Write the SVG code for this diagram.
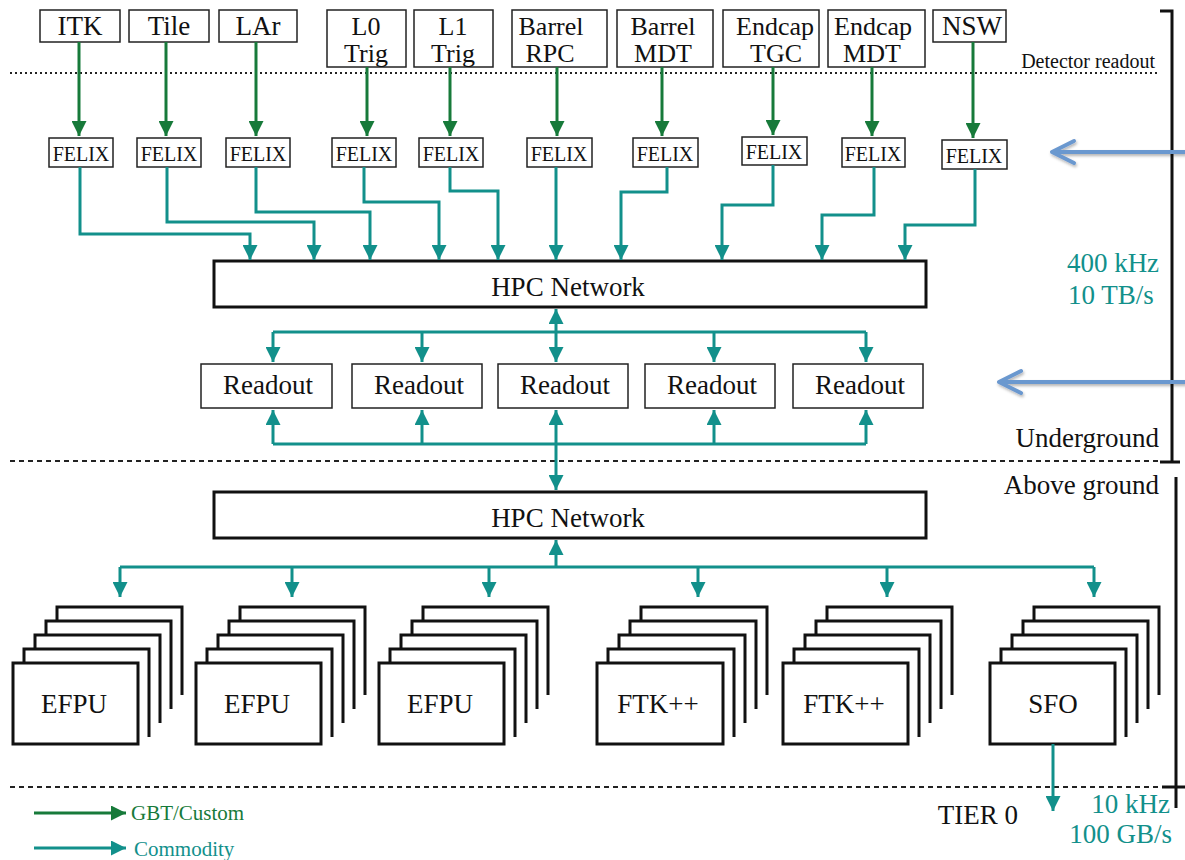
<svg xmlns="http://www.w3.org/2000/svg" width="1185" height="860" viewBox="0 0 1185 860" font-family="'Liberation Serif', 'Times New Roman', Times, serif">
  <defs>
    <marker id="ahGreen" markerUnits="userSpaceOnUse" markerWidth="15" markerHeight="15" refX="15" refY="7.5" orient="auto">
      <path d="M0,0 L15,7.5 L0,15 z" fill="#177a3a"/>
    </marker>
    <marker id="ahTeal" markerUnits="userSpaceOnUse" markerWidth="15" markerHeight="15" refX="15" refY="7.5" orient="auto-start-reverse">
      <path d="M0,0 L15,7.5 L0,15 z" fill="#12908b"/>
    </marker>
    <filter id="softShadow" x="-10%" y="-50%" width="120%" height="200%">
      <feDropShadow dx="1" dy="2" stdDeviation="1.5" flood-color="#000" flood-opacity="0.3"/>
    </filter>
  </defs>
  <style>
    text { font-family: 'Liberation Serif', 'Times New Roman', Times, serif; }
    .lbl { font-size: 27px; fill: #111; text-anchor: middle; }
    .lbl2 { font-size: 26px; fill: #111; text-anchor: middle; }
    .felix { font-size: 20px; fill: #111; text-anchor: middle; }
    .note { font-size: 27px; fill: #111; text-anchor: end; }
    .rate { font-size: 27px; fill: #12908b; text-anchor: middle; }
    .box { fill: #fff; stroke: #222; stroke-width: 1.5; }
    .net { fill: #fff; stroke: #111; stroke-width: 3; }
    .stack { fill: none; stroke: #111; stroke-width: 3; }
    .front { fill: #fff; stroke: #111; stroke-width: 3; }
    .green { fill: none; stroke: #177a3a; stroke-width: 3; marker-end: url(#ahGreen); }
    .teal { fill: none; stroke: #12908b; stroke-width: 3; }
    .end { marker-end: url(#ahTeal); }
    .both { marker-start: url(#ahTeal); marker-end: url(#ahTeal); }
    .dots { stroke: #222; stroke-width: 2; stroke-dasharray: 2 3; }
    .dash { stroke: #222; stroke-width: 2; stroke-dasharray: 5 4; }
    .bracket { fill: none; stroke: #111; stroke-width: 3; }
    .blue { fill: none; stroke: #6b98cf; stroke-width: 4; stroke-linecap: round; stroke-linejoin: round; filter: url(#softShadow); }
  </style>

  <!-- level separators -->
  <g id="separators">
    <line class="dots" x1="10" y1="73" x2="1158" y2="73"/>
    <line class="dash" x1="10" y1="461" x2="1162" y2="461"/>
    <line class="dash" x1="10" y1="787" x2="1162" y2="787"/>
    <text x="1155" y="68" style="font-size:20px;fill:#111;text-anchor:end">Detector readout</text>
    <text class="note" x="1159" y="447">Underground</text>
    <text class="note" x="1159" y="494">Above ground</text>
    <text class="note" x="1018" y="824">TIER 0</text>
  </g>

  <!-- right-hand bracket and rate labels -->
  <g id="bracket">
    <path class="bracket" d="M1160,11 H1172 V462"/>
    <line class="bracket" x1="1160" y1="462" x2="1180" y2="462"/>
    <path class="bracket" d="M1176,477 V808"/>
    <line class="bracket" x1="1162" y1="787" x2="1185" y2="787"/>
    <text class="rate" x="1113" y="272">400 kHz</text>
    <text class="rate" x="1111" y="304">10 TB/s</text>
    <text class="rate" x="1170" y="813" style="text-anchor:end">10 kHz</text>
    <text class="rate" x="1172" y="843" style="text-anchor:end">100 GB/s</text>
    <path class="blue" d="M1185,152 H1052 M1074,141 L1052,152 L1074,163"/>
    <path class="blue" d="M1185,382 H999 M1021,371 L999,382 L1021,393"/>
  </g>

  <!-- detector front-ends -->
  <g id="det-itk"><rect class="box" x="40" y="10" width="80" height="32"/><text class="lbl" x="80" y="35">ITK</text></g>
  <g id="det-tile"><rect class="box" x="129" y="10" width="80" height="32"/><text class="lbl" x="169" y="35">Tile</text></g>
  <g id="det-lar"><rect class="box" x="219" y="10" width="78" height="32"/><text class="lbl" x="258" y="35">LAr</text></g>
  <g id="det-l0"><rect class="box" x="327" y="10" width="79" height="57"/><text class="lbl2" x="366" y="35">L0<tspan x="366" dy="27">Trig</tspan></text></g>
  <g id="det-l1"><rect class="box" x="414" y="10" width="79" height="57"/><text class="lbl2" x="453" y="35">L1<tspan x="453" dy="27">Trig</tspan></text></g>
  <g id="det-brpc"><rect class="box" x="512" y="10" width="95" height="57"/><text class="lbl2" x="551" y="35">Barrel<tspan x="550" dy="27">RPC</tspan></text></g>
  <g id="det-bmdt"><rect class="box" x="617" y="10" width="96" height="57"/><text class="lbl2" x="663" y="35">Barrel<tspan x="663" dy="27">MDT</tspan></text></g>
  <g id="det-etgc"><rect class="box" x="723" y="10" width="96" height="57"/><text class="lbl2" x="775" y="35">Endcap<tspan x="776" dy="27">TGC</tspan></text></g>
  <g id="det-emdt"><rect class="box" x="828" y="10" width="97" height="57"/><text class="lbl2" x="873" y="35">Endcap<tspan x="872" dy="27">MDT</tspan></text></g>
  <g id="det-nsw"><rect class="box" x="933" y="10" width="73" height="32"/><text class="lbl" x="972" y="35">NSW</text></g>

  <!-- FELIX cards -->
  <g id="felix-itk"><rect class="box" x="49" y="138" width="64" height="29"/><text class="felix" x="81" y="161">FELIX</text></g>
  <g id="felix-tile"><rect class="box" x="137" y="138" width="64" height="29"/><text class="felix" x="169" y="161">FELIX</text></g>
  <g id="felix-lar"><rect class="box" x="226" y="138" width="64" height="29"/><text class="felix" x="258" y="161">FELIX</text></g>
  <g id="felix-l0"><rect class="box" x="332" y="138" width="64" height="29"/><text class="felix" x="364" y="161">FELIX</text></g>
  <g id="felix-l1"><rect class="box" x="419" y="138" width="64" height="29"/><text class="felix" x="451" y="161">FELIX</text></g>
  <g id="felix-brpc"><rect class="box" x="527" y="138" width="65" height="29"/><text class="felix" x="559" y="161">FELIX</text></g>
  <g id="felix-bmdt"><rect class="box" x="633" y="138" width="65" height="29"/><text class="felix" x="665" y="161">FELIX</text></g>
  <g id="felix-etgc"><rect class="box" x="742" y="137" width="65" height="28"/><text class="felix" x="774" y="159">FELIX</text></g>
  <g id="felix-emdt"><rect class="box" x="842" y="138" width="63" height="29"/><text class="felix" x="873" y="161">FELIX</text></g>
  <g id="felix-nsw"><rect class="box" x="942" y="140" width="65" height="29"/><text class="felix" x="974" y="163">FELIX</text></g>

  <!-- networks -->
  <g id="hpc-underground"><rect class="net" x="214" y="261" width="712" height="46"/><text class="lbl" x="568" y="296">HPC Network</text></g>
  <g id="hpc-surface"><rect class="net" x="214" y="492" width="712" height="46"/><text class="lbl" x="568" y="527">HPC Network</text></g>

  <!-- readout nodes -->
  <g id="readout-1"><rect class="box" x="201" y="364" width="131" height="44"/><text class="lbl" x="268" y="394">Readout</text></g>
  <g id="readout-2"><rect class="box" x="352" y="364" width="130" height="44"/><text class="lbl" x="419" y="394">Readout</text></g>
  <g id="readout-3"><rect class="box" x="498" y="364" width="130" height="44"/><text class="lbl" x="565" y="394">Readout</text></g>
  <g id="readout-4"><rect class="box" x="645" y="364" width="130" height="44"/><text class="lbl" x="712" y="394">Readout</text></g>
  <g id="readout-5"><rect class="box" x="793" y="364" width="130" height="44"/><text class="lbl" x="860" y="394">Readout</text></g>

  <!-- processing farms: stacked cards, back layers drawn as open outlines -->
  <g id="farm-efpu-1">
    <path class="stack" d="M57,621 V607 H182 V695 M46,635 V621 H171 V709 M35,649 V635 H160 V723 M24,663 V649 H149 V737"/>
    <rect class="front" x="13" y="663" width="125" height="81"/>
    <text class="lbl" x="74" y="713">EFPU</text>
  </g>
  <g id="farm-efpu-2">
    <path class="stack" d="M240,621 V607 H365 V695 M229,635 V621 H354 V709 M218,649 V635 H343 V723 M207,663 V649 H332 V737"/>
    <rect class="front" x="196" y="663" width="125" height="81"/>
    <text class="lbl" x="257" y="713">EFPU</text>
  </g>
  <g id="farm-efpu-3">
    <path class="stack" d="M423,621 V607 H548 V695 M412,635 V621 H537 V709 M401,649 V635 H526 V723 M390,663 V649 H515 V737"/>
    <rect class="front" x="379" y="663" width="125" height="81"/>
    <text class="lbl" x="440" y="713">EFPU</text>
  </g>
  <g id="farm-ftk-1">
    <path class="stack" d="M641,621 V607 H767 V695 M630,635 V621 H756 V709 M619,649 V635 H745 V723 M608,663 V649 H734 V737"/>
    <rect class="front" x="597" y="663" width="126" height="81"/>
    <text class="lbl" x="658" y="713">FTK++</text>
  </g>
  <g id="farm-ftk-2">
    <path class="stack" d="M827,621 V607 H952 V695 M816,635 V621 H941 V709 M805,649 V635 H930 V723 M794,663 V649 H919 V737"/>
    <rect class="front" x="783" y="663" width="125" height="81"/>
    <text class="lbl" x="844" y="713">FTK++</text>
  </g>
  <g id="farm-sfo">
    <path class="stack" d="M1034,621 V607 H1159 V695 M1023,635 V621 H1148 V709 M1012,649 V635 H1137 V723 M1001,663 V649 H1126 V737"/>
    <rect class="front" x="990" y="663" width="125" height="81"/>
    <text class="lbl" x="1053" y="713">SFO</text>
  </g>

  <!-- connectors -->
  <g id="connectors">
    <!-- detector links to FELIX -->
    <path class="green" d="M79,42 V136"/>
    <path class="green" d="M166,42 V136"/>
    <path class="green" d="M256,42 V136"/>
    <path class="green" d="M367,67 V136"/>
    <path class="green" d="M450,67 V136"/>
    <path class="green" d="M557,67 V136"/>
    <path class="green" d="M662,67 V136"/>
    <path class="green" d="M773,67 V135"/>
    <path class="green" d="M872,67 V136"/>
    <path class="green" d="M973,42 V138"/>

    <!-- FELIX to underground network -->
    <path class="teal end" d="M80,167 V234 H250 V260"/>
    <path class="teal end" d="M167,167 V222 H314 V260"/>
    <path class="teal end" d="M256,167 V212 H370 V260"/>
    <path class="teal end" d="M364,167 V202 H439 V260"/>
    <path class="teal end" d="M450,167 V191 H498 V260"/>
    <path class="teal end" d="M556,167 V260"/>
    <path class="teal end" d="M667,167 V192 H621 V260"/>
    <path class="teal end" d="M773,165 V205 H722 V260"/>
    <path class="teal end" d="M874,167 V215 H822 V260"/>
    <path class="teal end" d="M975,169 V225 H905 V260"/>

    <!-- network to readout (upper bus) -->
    <path class="teal" d="M273,332 H866"/>
    <path class="teal both" d="M556,309 V362"/>
    <path class="teal end" d="M273,332 V362"/>
    <path class="teal end" d="M422,332 V362"/>
    <path class="teal end" d="M714,332 V362"/>
    <path class="teal end" d="M866,332 V362"/>

    <!-- readout to surface network (lower bus) -->
    <path class="teal" d="M273,444 H866"/>
    <path class="teal end" d="M273,444 V410"/>
    <path class="teal end" d="M422,444 V410"/>
    <path class="teal end" d="M714,444 V410"/>
    <path class="teal end" d="M866,444 V410"/>
    <path class="teal both" d="M556,410 V490"/>

    <!-- surface network to farms -->
    <path class="teal end" d="M556,567 V540"/>
    <path class="teal" d="M120,567 H1094"/>
    <path class="teal end" d="M120,567 V597"/>
    <path class="teal end" d="M292,567 V597"/>
    <path class="teal end" d="M489,567 V597"/>
    <path class="teal end" d="M698,567 V597"/>
    <path class="teal end" d="M887,567 V597"/>
    <path class="teal end" d="M1094,567 V597"/>

    <!-- SFO to Tier 0 -->
    <path class="teal end" d="M1053,744 V811"/>
  </g>

  <!-- legend -->
  <g id="legend">
    <path class="green" d="M34,813 H126"/>
    <text x="131" y="820" style="font-size:21px;fill:#177a3a">GBT/Custom</text>
    <path class="teal end" d="M34,848 H126"/>
    <text x="134" y="856" style="font-size:21px;fill:#12908b">Commodity</text>
  </g>
</svg>
